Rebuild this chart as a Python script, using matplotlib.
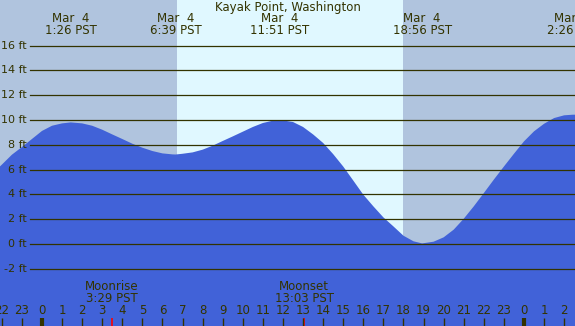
import numpy as np
import matplotlib
matplotlib.use('Agg')
import matplotlib.pyplot as plt
import matplotlib.transforms as mtransforms

# tide heights every half hour (hours from midnight Mar 4, feet)
tide_hours = [-2.09, -2, -1.5, -1, -0.5, 0, 0.5, 1, 1.43, 2, 2.5, 3, 3.5, 4,
              4.5, 5, 5.5, 6, 6.5, 6.65, 7, 7.5, 8, 8.5, 9, 9.5, 10, 10.5, 11,
              11.5, 11.85, 12, 12.5, 13, 13.5, 14, 14.5, 15, 15.5, 16, 16.5,
              17, 17.5, 18, 18.5, 18.93, 19.5, 20, 20.5, 21, 21.5, 22, 22.5,
              23, 23.5, 24, 24.5, 25, 25.5, 26, 26.43, 26.54]
tide_ft = [6.26, 6.40, 7.20, 7.82, 8.47, 9.12, 9.54, 9.73, 9.81, 9.73, 9.54,
           9.22, 8.84, 8.47, 8.09, 7.77, 7.50, 7.31, 7.23, 7.22, 7.28, 7.39,
           7.61, 7.93, 8.31, 8.68, 9.06, 9.44, 9.76, 9.95, 10.0, 9.97, 9.84,
           9.44, 8.84, 8.15, 7.25, 6.25, 5.12, 3.98, 3.04, 2.15, 1.42, 0.67,
           0.22, 0.05, 0.19, 0.54, 1.16, 2.04, 3.04, 4.11, 5.20, 6.25, 7.28,
           8.28, 9.09, 9.70, 10.16, 10.38, 10.43, 10.43]

event_hours = [1.43, 6.65, 11.85, 18.93, 26.43]
event_labels = ['1:26 PST', '6:39 PST', '11:51 PST', '18:56 PST', '2:26 PST']

sunrise = 6.71
sunset = 17.98

moon_hours = [3.48, 13.05]
moon_names = ['Moonrise', 'Moonset']
moon_times = ['3:29 PST', '13:03 PST']

grid_ft = [-2, 0, 2, 4, 6, 8, 10, 12, 14, 16]
tick_hours = list(range(-2, 27))

title = 'Kayak Point, Washington'

night = '#b0c4de'
day = '#e0f8ff'
water = '#4162d8'
ink = '#333300'
fs = 8.5

xmin, xmax = -2.09, 26.54
ymin, ymax = -6.61, 19.68

fig = plt.figure(figsize=(5.75, 3.26), dpi=100)
ax = fig.add_axes([0, 0, 1, 1])
ax.set_xlim(xmin, xmax)
ax.set_ylim(ymin, ymax)
ax.axis('off')

ax.axvspan(xmin, xmax, color=night, lw=0)
ax.axvspan(sunrise, sunset, color=day, lw=0)

ax.fill_between(tide_hours, ymin, tide_ft, color=water, lw=0)

for ft in grid_ft:
    ax.axhline(ft, xmin=30 / 575, xmax=1, color=ink, lw=0.9)
    ax.text(27 / 575, ft, '%d ft' % ft, transform=ax.get_yaxis_transform(),
            ha='right', va='center', fontsize=8, color=ink)

top = mtransforms.blended_transform_factory(ax.transData, fig.transFigure)
ax.text(0.5, 1 - 7 / 326, title, transform=fig.transFigure, ha='center',
        va='center', fontsize=fs, color=ink)
for h, lab in zip(event_hours, event_labels):
    ax.text(h, 1 - 19 / 326, 'Mar  4', transform=top, ha='center',
            va='center', fontsize=fs, color=ink)
    ax.text(h, 1 - 31 / 326, lab, transform=top, ha='center',
            va='center', fontsize=fs, color=ink)

for h, name, t in zip(moon_hours, moon_names, moon_times):
    ax.text(h, 1 - 286.5 / 326, name, transform=top, ha='center', va='center',
            fontsize=fs, color=ink)
    ax.text(h, 1 - 298.5 / 326, t, transform=top, ha='center', va='center',
            fontsize=fs, color=ink)
    ax.vlines(h, 0, 8 / 326, transform=top, color='red', lw=1.2)

for h in tick_hours:
    ax.text(h, 1 - 311 / 326, str(h % 24), transform=top, ha='center',
            va='center', fontsize=fs, color=ink)
    lw = 3 if h % 24 == 0 else 1
    ax.vlines(h, 0, 8 / 326, transform=top, color=ink, lw=lw)

fig.savefig('out.png', dpi=100)
